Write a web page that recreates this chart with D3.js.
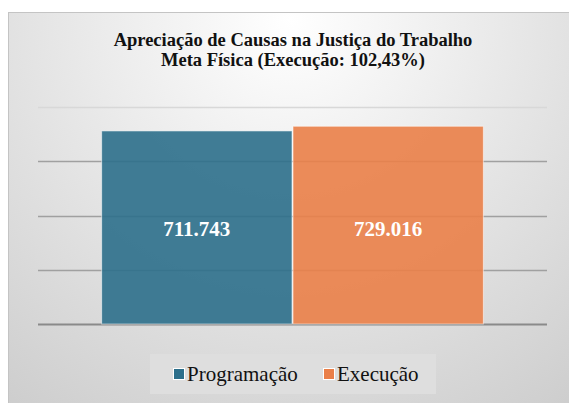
<!DOCTYPE html>
<html>
<head>
<meta charset="utf-8">
<script src="https://cdn.jsdelivr.net/npm/d3@7"></script>
</head>
<body style="margin:0; background:#fff">
<div id="chart"></div>
<script>
// data
const categories = ["Meta Física"]
const series = ["Programação", "Execução"]
const values = [711743, 729016]
const colors = ["#2c6f8b", "#ea7f48"]
const tickValues = [0, 200000, 400000, 600000, 800000]
const titleLines = ["Apreciação de Causas na Justiça do Trabalho", "Meta Física (Execução: 102,43%)"]

const W = 569, H = 403
const serif = "'Liberation Serif'"
const svg = d3.select("#chart").append("svg")
    .attr("width", W)
    .attr("height", H)
    .style("display", "block")

// background gradient of the chart area
const defs = svg.append("defs")
const grad = defs.append("radialGradient")
    .attr("id", "bg")
    .attr("gradientUnits", "userSpaceOnUse")
    .attr("cx", 290).attr("cy", 20).attr("r", 480)
grad.append("stop").attr("offset", "0").attr("stop-color", "#ffffff")
grad.append("stop").attr("offset", "1").attr("stop-color", "#cdcdcd")

svg.append("rect")
    .attr("x", 8.5).attr("y", 12.5)
    .attr("width", W).attr("height", H)
    .attr("fill", "url(#bg)")
    .attr("stroke", "#c4c4c4")

// title
svg.append("g").selectAll("text")
    .data(titleLines)
    .join("text")
    .attr("x", 293)
    .attr("y", (d, i) => 46 + i * 20)
    .attr("text-anchor", "middle")
    .style("font-family", serif)
    .style("font-size", "18.5px")
    .style("font-weight", "bold")
    .attr("fill", "#111")
    .text(d => d)

// plot area
const plot = { left: 38, right: 547, top: 107, bottom: 324 }

const x0 = d3.scaleBand()
    .domain(categories)
    .range([plot.left, plot.right])
    .paddingInner(0)
    .paddingOuter(0.165)
const x1 = d3.scaleBand()
    .domain(series)
    .range([0, x0.bandwidth()])
    .padding(0)
const y = d3.scaleLinear()
    .domain([0, 800000])
    .range([plot.bottom, plot.top])

// gridlines
svg.append("g").selectAll("line")
    .data(tickValues)
    .join("line")
    .attr("x1", plot.left)
    .attr("x2", plot.right)
    .attr("y1", d => Math.round(y(d)) + 0.5)
    .attr("y2", d => Math.round(y(d)) + 0.5)
    .attr("stroke", (d, i) => i === 0 ? "#8a8a8a" : (d === 800000 ? "#d8d8d8" : "#a0a0a0"))
    .attr("stroke-width", (d, i) => i === 0 ? 2 : 1.5)

// bars (slightly see-through, gridlines show faintly)
const bars = svg.append("g")
bars.selectAll("rect")
    .data(values)
    .join("rect")
    .attr("x", (d, i) => x0(categories[0]) + x1(series[i]) + 0.5)
    .attr("y", d => y(d))
    .attr("width", x1.bandwidth() - 1)
    .attr("height", d => plot.bottom - y(d))
    .attr("fill", (d, i) => colors[i])
    .attr("fill-opacity", 0.9)
    .attr("stroke", "rgba(255,255,255,0.55)")
    .attr("stroke-width", 1)

// value labels
const fmt = d3.formatLocale({ decimal: ",", thousands: ".", grouping: [3], currency: ["", ""] }).format(",")
bars.selectAll("text")
    .data(values)
    .join("text")
    .attr("x", (d, i) => x0(categories[0]) + x1(series[i]) + x1.bandwidth() / 2)
    .attr("y", 236)
    .attr("text-anchor", "middle")
    .style("font-family", serif)
    .style("font-size", "21px")
    .style("font-weight", "bold")
    .attr("fill", "#fff")
    .text(d => fmt(d))

// legend
const legend = svg.append("g")
legend.append("rect")
    .attr("x", 150).attr("y", 354)
    .attr("width", 286).attr("height", 40)
    .attr("fill", "#dedede")
const items = legend.selectAll("g")
    .data(series)
    .join("g")
    .attr("transform", (d, i) => `translate(${i === 0 ? 173 : 323},0)`)
items.append("rect")
    .attr("x", 0.5).attr("y", 368.5)
    .attr("width", 11).attr("height", 11)
    .attr("fill", (d, i) => colors[i])
    .attr("stroke", "#fff")
items.append("text")
    .attr("x", 14)
    .attr("y", 381)
    .style("font-family", serif)
    .style("font-size", "21px")
    .attr("fill", "#111")
    .text(d => d)
</script>
</body>
</html>
